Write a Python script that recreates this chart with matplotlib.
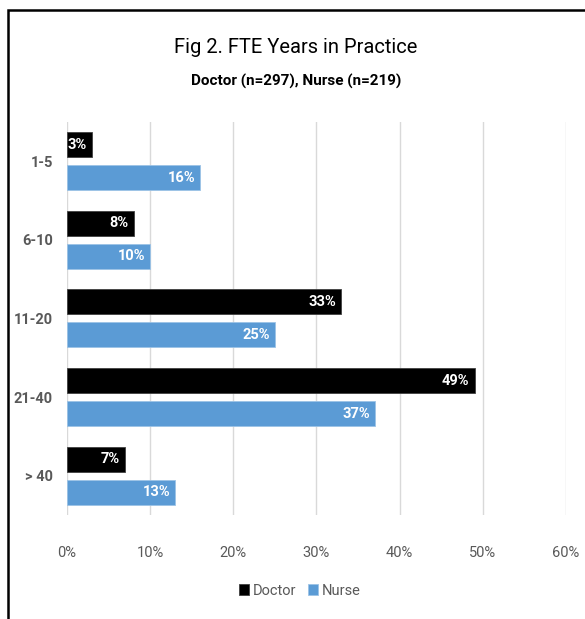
import numpy as np
import matplotlib
matplotlib.use("Agg")
import matplotlib.pyplot as plt
from matplotlib.patches import Rectangle

plt.rcParams['font.family'] = ['Roboto', 'DejaVu Sans']

# Data
categories = ["1-5", "6-10", "11-20", "21-40", "> 40"]
doctor = [3, 8, 33, 49, 7]
nurse = [16, 10, 25, 37, 13]
ticks = [0, 10, 20, 30, 40, 50, 60]

doc_color = "#000000"
nurse_color = "#5B9BD5"

fig = plt.figure(figsize=(5.85, 6.19), dpi=100)
ax = fig.add_axes([0.1145, 0.168, 0.853, 0.635])

y = np.arange(len(categories))
h = 0.318
off = 0.21

b1 = ax.barh(y - off, doctor, height=h, color=doc_color, edgecolor="#404040", linewidth=0.6, label="Doctor", zorder=3)
b2 = ax.barh(y + off, nurse, height=h, color=nurse_color, edgecolor="#9CC3E6", linewidth=0.6, label="Nurse", zorder=3)

for bars, vals in ((b1, doctor), (b2, nurse)):
    for bar, v in zip(bars, vals):
        ax.text(v - 0.6, bar.get_y() + bar.get_height() / 2, f"{v}%",
                ha="right", va="center", color="white", fontsize=10.5,
                fontweight="bold", zorder=4)

ax.set_xlim(0, 60)
ax.set_ylim(len(categories) - 0.5, -0.5)
ax.set_xticks(ticks)
ax.set_xticklabels([f"{t}%" for t in ticks], color="#595959", fontsize=10.5)
ax.set_yticks(y)
ax.set_yticklabels(categories, color="#595959", fontsize=10.5, fontweight="bold")
ax.tick_params(length=0, pad=10)
ax.tick_params(axis="x", pad=22)
ax.grid(axis="x", color="#D9D9D9", linewidth=1, zorder=0)
for s in ax.spines.values():
    s.set_visible(False)

fig.text(0.506, 0.923, "Fig 2. FTE Years in Practice", ha="center", va="center",
         fontsize=14.5, color="#000000")
fig.text(0.506, 0.868, "Doctor (n=297), Nurse (n=219)", ha="center", va="center",
         fontsize=11, fontweight="bold", color="#000000")

leg = fig.legend(handles=[b1, b2], loc="center", bbox_to_anchor=(0.513, 0.046),
                 ncol=2, frameon=False, fontsize=10.5, handlelength=0.7,
                 handleheight=0.7, handletextpad=0.25, columnspacing=0.8)
for t in leg.get_texts():
    t.set_color("#595959")

# outer chart border (cropped on right and bottom)
fig.patches.append(Rectangle((0.013, -0.1), 1.2, 1.084, transform=fig.transFigure,
                             fill=False, edgecolor="black", linewidth=1.8))

fig.savefig("out.png", dpi=100)
